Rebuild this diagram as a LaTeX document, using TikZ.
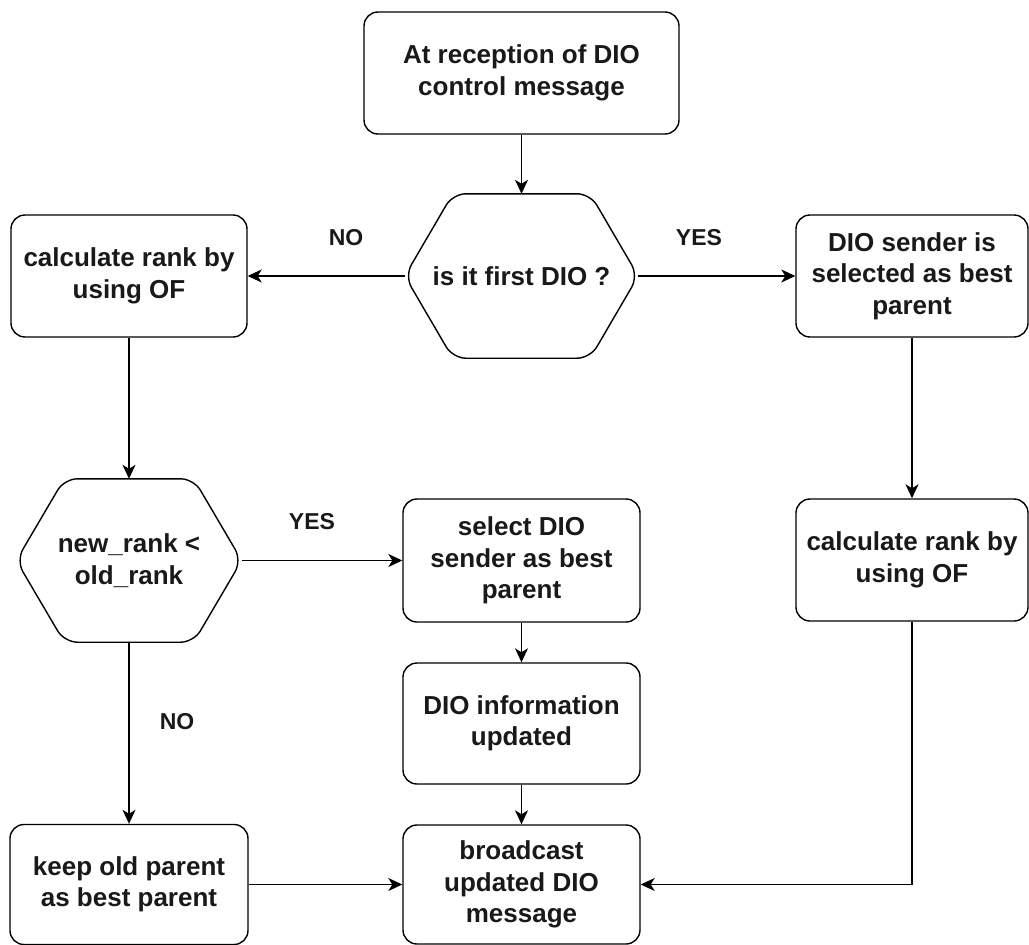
\documentclass[tikz,border=0pt]{standalone}
\usepackage{fontspec}
\setmainfont{Liberation Sans}
\usetikzlibrary{arrows.meta}

% hexagonal decision outline drawn around a (borderless) text node
\newcommand\hexoutline[2]{%
  \draw[hexline] (#1.west) -- ([xshift=#2]#1.north west) -- ([xshift=-#2]#1.north east)
    -- (#1.east) -- ([xshift=-#2]#1.south east) -- ([xshift=#2]#1.south west) -- cycle;}

\begin{document}
\begin{tikzpicture}[x=1pt,y=-1pt,
  txt/.style={font=\bfseries\fontsize{26}{31.5}\selectfont, align=center, inner sep=0pt, text=black!90},
  box/.style={txt, draw, rounded corners=14pt, line width=1.4pt},
  hexnode/.style={txt},
  hexline/.style={line width=1.4pt, rounded corners=13pt},
  lbl/.style={font=\bfseries\fontsize{23}{27}\selectfont, inner sep=0pt, text=black!90},
  arr/.style={line width=1.4pt, -{Stealth[length=14pt,width=13pt,inset=4pt]}}]
\useasboundingbox (0,0) rectangle (1029,945);

% process boxes
\node[box, minimum width=315pt, minimum height=122pt] (start) at (521.5,73) {At reception of DIO\\control message};
\node[box, minimum width=236pt, minimum height=122pt] (calcL) at (129,276) {calculate rank by\\using OF};
\node[box, minimum width=232pt, minimum height=122pt] (sender) at (912,276) {DIO sender is\\selected as best\\parent};
\node[box, minimum width=237pt, minimum height=123pt] (select) at (521.5,560.5) {select DIO\\sender as best\\parent};
\node[box, minimum width=232pt, minimum height=122pt] (calcR) at (912,560) {calculate rank by\\using OF};
\node[box, minimum width=237pt, minimum height=121pt] (info) at (521.5,723.5) {DIO information\\updated};
\node[box, minimum width=238pt, minimum height=120pt] (keep) at (129,884.5) {keep old parent\\as best parent};
\node[box, minimum width=237pt, minimum height=119pt] (bcast) at (521.5,884.5) {broadcast\\updated DIO\\message};

% decisions
\node[hexnode, minimum width=233pt, minimum height=164pt] (first) at (521.5,276) {is it first DIO ?};
\hexoutline{first}{48pt}
\node[hexnode, minimum width=225pt, minimum height=163pt] (cmp) at (129,560.5) {new\_rank <\\old\_rank};
\hexoutline{cmp}{48pt}

% connectors
\draw[arr] (start) -- (first);
\draw[arr] (first.west) -- (calcL.east);
\draw[arr] (first.east) -- (sender.west);
\draw[arr] (calcL) -- (cmp);
\draw[arr] (sender) -- (calcR);
\draw[arr] (cmp.east) -- (select.west);
\draw[arr] (cmp) -- (keep);
\draw[arr] (select) -- (info);
\draw[arr] (info) -- (bcast);
\draw[arr] (keep) -- (bcast);
\draw[arr] (calcR.south) |- (bcast.east);

% branch labels
\node[lbl] (noA) at (346,238) {NO};
\node[lbl] (yesA) at (699,238) {YES};
\node[lbl] (yesB) at (312,522) {YES};
\node[lbl] (noB) at (177,722) {NO};
\end{tikzpicture}
\end{document}
